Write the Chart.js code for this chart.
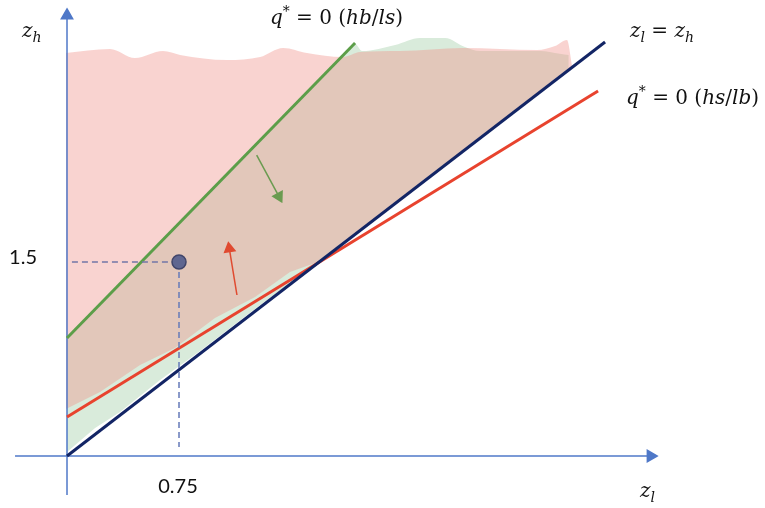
<!DOCTYPE html>
<html>
<head>
<meta charset="utf-8">
<script src="https://cdn.jsdelivr.net/npm/chart.js@4.4.0/dist/chart.umd.min.js"></script>
<style>
html, body { margin: 0; padding: 0; background: #fff; }
#wrap { width: 765px; height: 508px; position: relative; }
</style>
</head>
<body>
<div id="wrap"><canvas id="regionChart"></canvas></div>
<script>
// region boundaries, points as [z_l, z_h]
const pinkUpper = [[-0.007,3.116],[0.288,3.147],[0.455,3.077],[0.643,3.131],[0.757,3.101],[1.072,3.062],[1.293,3.085],[1.447,3.155],[1.607,3.116],[1.848,3.085],[1.962,3.124],[2.230,3.131],[2.652,3.155],[3.148,3.139],[3.268,3.170],[3.348,3.217],[3.382,3.015]];
const pinkLower = [[-0.007,0.363],[0.221,0.495],[0.489,0.704],[0.723,0.835],[0.991,1.067],[1.259,1.229],[1.493,1.423],[1.661,1.492],[1.962,1.747],[2.364,2.111],[2.766,2.466],[3.101,2.760],[3.382,3.015]];
const greenUpper = [[0,0.912],[0.5,1.503],[1.0,2.095],[1.5,2.686],[1.85,3.100],[1.929,3.186],[1.976,3.131],[2.197,3.178],[2.364,3.232],[2.531,3.232],[2.665,3.162],[2.766,3.131],[3.168,3.131],[3.300,3.110],[3.360,3.100]];
const greenLower = [[0,0.031],[0.188,0.217],[0.355,0.340],[0.623,0.588],[0.891,0.812],[1.293,1.168],[1.761,1.562],[2.364,2.103],[3.034,2.706],[3.300,2.945],[3.360,2.990]];

// lines
const lineEqual = [[0,0],[3.603,3.201]];      // z_l = z_h
const lineHsLb = [[0,0.302],[3.556,2.822]];   // q* = 0 (hs/lb)
const lineHbLs = [[0,0.912],[1.929,3.193]];   // q* = 0 (hb/ls)
const xAxisLine = [[-0.348,0],[3.908,0]];
const yAxisLine = [[0,-0.302],[0,3.407]];
const greenArrow = [[1.270,2.327],[1.419,2.007]];
const redArrow = [[1.138,1.245],[1.087,1.604]];

const marked = [0.75, 1.5];
const xTickLabels = ['0.75'];
const yTickLabels = ['1.5'];

const toXY = arr => arr.map(p => ({x: p[0], y: p[1]}));

function lineSet(data, color, width, extra) {
    return Object.assign({
        data: toXY(data),
        borderColor: color,
        backgroundColor: color,
        borderWidth: width,
        pointRadius: 0,
        fill: false,
        tension: 0
    }, extra || {});
}

// draws text like "q* = 0 (hb/ls)" with italic letters and sub/superscripts
function drawMath(ctx, px, py, parts, size) {
    let cx = px;
    for (const [t, s] of parts) {
        const small = s === 'sub' || s === 'sup';
        const fs = small ? size * 0.7 : size;
        const italic = s === 'i' || s === 'sub';
        ctx.font = (italic ? 'italic ' : '') + fs + 'px "DejaVu Serif"';
        const dy = s === 'sub' ? size * 0.25 : (s === 'sup' ? -size * 0.4 : 0);
        ctx.fillText(t, cx, py + dy);
        cx += ctx.measureText(t).width;
    }
}

const mathLabels = [
    {at: [1.359, 3.340], parts: [['q','i'],['*','sup'],[' = 0 (','n'],['hb','i'],['/','n'],['ls','i'],[')','n']]},
    {at: [3.770, 3.240], parts: [['z','i'],['l','sub'],[' = ','n'],['z','i'],['h','sub']]},
    {at: [3.743, 2.722], parts: [['q','i'],['*','sup'],[' = 0 (','n'],['hs','i'],['/','n'],['lb','i'],[')','n']]},
    {at: [-0.301, 3.240], parts: [['z','i'],['h','sub']]},
    {at: [3.837, -0.317], parts: [['z','i'],['l','sub']]}
];

const labelPlugin = {
    id: 'labelPlugin',
    afterDraw(chart) {
        const ctx = chart.ctx;
        const xs = chart.scales.x, ys = chart.scales.y;
        ctx.save();
        ctx.fillStyle = '#111';
        ctx.textBaseline = 'alphabetic';
        ctx.textAlign = 'left';
        mathLabels.forEach(l => {
            drawMath(ctx, xs.getPixelForValue(l.at[0]), ys.getPixelForValue(l.at[1]), l.parts, 20);
        });
        ctx.font = '20px Lato';
        ctx.textAlign = 'center';
        ctx.fillText(xTickLabels[0], xs.getPixelForValue(marked[0]) - 1, ys.getPixelForValue(0) + 37);
        ctx.textAlign = 'right';
        ctx.fillText(yTickLabels[0], xs.getPixelForValue(0) - 30, ys.getPixelForValue(marked[1]) + 2);
        ctx.restore();
    }
};

const axisBlue = '#4f78c8';

new Chart(document.getElementById('regionChart').getContext('2d'), {
    type: 'line',
    data: {
        datasets: [
            lineSet(pinkUpper, 'rgba(0,0,0,0)', 0, {fill: 1, backgroundColor: 'rgba(240,145,137,0.4)', cubicInterpolationMode: 'monotone', order: 8}),
            lineSet(pinkLower, 'rgba(0,0,0,0)', 0, {order: 9}),
            lineSet(greenUpper, 'rgba(0,0,0,0)', 0, {fill: 3, backgroundColor: 'rgb(217,235,219)', cubicInterpolationMode: 'monotone', order: 10}),
            lineSet(greenLower, 'rgba(0,0,0,0)', 0, {order: 11}),
            lineSet(lineEqual, '#132565', 3, {order: 3}),
            lineSet(lineHsLb, '#e8432e', 3, {order: 3}),
            lineSet(lineHbLs, '#5c9e49', 3, {order: 3}),
            lineSet(xAxisLine, axisBlue, 1.5, {pointRadius: [0, 6.5], pointStyle: 'triangle', pointRotation: 90, order: 4}),
            lineSet(yAxisLine, axisBlue, 1.5, {pointRadius: [0, 6.5], pointStyle: 'triangle', pointRotation: 0, order: 4}),
            lineSet([[0.033, marked[1]], marked], '#7377a8', 1.5, {borderDash: [6, 4], order: 2}),
            lineSet([marked, [marked[0], 0.07]], '#6479b8', 1.5, {borderDash: [6, 4], order: 2}),
            lineSet(greenArrow, '#6a9b50', 1.5, {pointRadius: [0, 6], pointStyle: 'triangle', pointRotation: 152, order: 2}),
            lineSet(redArrow, '#e04a30', 1.5, {pointRadius: [0, 6], pointStyle: 'triangle', pointRotation: -9, order: 2}),
            lineSet([marked], '#5f6690', 0, {pointRadius: 7, pointBorderColor: '#40456a', pointBorderWidth: 1.5, order: 0})
        ]
    },
    options: {
        responsive: true,
        maintainAspectRatio: false,
        animation: false,
        events: [],
        layout: { padding: 0, autoPadding: false },
        scales: {
            x: { type: 'linear', display: false, min: -0.4487, max: 4.674 },
            y: { type: 'linear', display: false, min: -0.402, max: 3.526 }
        },
        plugins: {
            legend: { display: false },
            tooltip: { enabled: false }
        }
    },
    plugins: [labelPlugin]
});
</script>
</body>
</html>
